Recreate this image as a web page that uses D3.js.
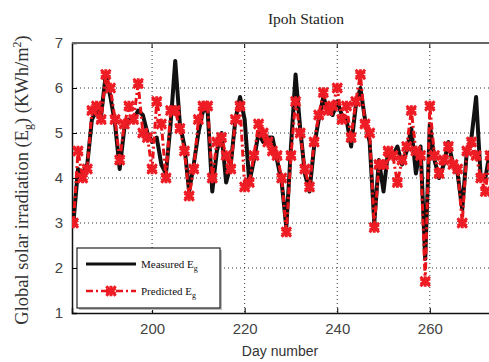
<!DOCTYPE html>
<html>
<head>
<meta charset="utf-8">
<script src="https://cdn.jsdelivr.net/npm/d3@7"></script>
<style>
  body { margin: 0; background: #fff; }
  svg { display: block; }
</style>
</head>
<body>
<div id="chart"></div>
<script>
// Tag des Jahres (Ipoh, Juli - September)
const startDay = 183;
const measured = [3.0, 4.2, 4.1, 4.3, 5.3, 5.5, 5.4, 6.3, 5.8, 5.2,
                  4.2, 5.1, 5.3, 5.3, 5.5, 5.4, 5.0, 4.8, 4.9, 4.3,
                  4.1, 5.2, 6.6, 5.2, 4.7, 3.7, 4.3, 5.0, 5.5, 5.5,
                  3.7, 4.6, 5.0, 3.9, 4.3, 5.3, 5.8, 5.3, 3.9, 4.4,
                  5.0, 4.8, 4.9, 4.9, 4.4, 3.9, 2.9, 4.7, 6.3, 5.1,
                  4.1, 3.7, 4.7, 5.3, 5.8, 5.5, 5.4, 5.7, 5.4, 5.3,
                  4.7, 5.6, 6.0, 5.3, 4.8, 3.0, 4.4, 3.7, 4.6, 4.5,
                  4.7, 4.3, 4.6, 5.1, 4.1, 4.7, 2.2, 5.2, 4.4, 4.0,
                  4.3, 4.8, 4.3, 4.1, 3.3, 4.6, 4.9, 5.8, 4.0, 4.0, 4.6];
const predicted = [3.0, 4.6, 4.0, 4.2, 5.5, 5.6, 5.3, 6.3, 6.0, 5.3,
                   4.4, 5.2, 5.6, 5.3, 6.1, 5.0, 4.9, 4.2, 5.7, 5.2,
                   4.0, 5.5, 5.5, 5.1, 4.6, 3.6, 4.2, 5.3, 5.6, 5.6,
                   4.0, 4.8, 4.9, 4.5, 4.2, 5.3, 5.6, 3.8, 3.9, 4.5,
                   5.2, 5.0, 4.8, 4.6, 4.5, 4.0, 2.8, 4.5, 5.7, 5.0,
                   4.2, 3.8, 4.8, 5.4, 5.9, 5.5, 5.6, 6.0, 5.3, 5.6,
                   4.9, 5.7, 6.3, 5.2, 5.0, 2.9, 4.3, 4.3, 4.6, 4.5,
                   3.9, 4.4, 4.7, 5.5, 4.6, 4.5, 1.7, 5.6, 4.5, 4.1,
                   4.4, 4.7, 4.3, 4.2, 3.0, 4.6, 4.8, 4.5, 4.0, 3.7, 4.5];
const xTicks = [200, 220, 240, 260];
const yTicks = [1, 2, 3, 4, 5, 6, 7];

const width = 489, height = 362;
const mLeft = 72, mTop = 43, mBottom = 313, mRight = 540; // rechter Rand liegt ausserhalb des Bildes

const svg = d3.select("#chart").append("svg")
    .attr("width", width)
    .attr("height", height);

const x = d3.scaleLinear().domain([182.7, 283.8]).range([mLeft, mRight]);
const y = d3.scaleLinear().domain([1, 7]).range([mBottom, mTop]);

svg.append("defs").append("clipPath").attr("id", "plot-clip")
    .append("rect")
    .attr("x", mLeft).attr("y", mTop - 2)
    .attr("width", mRight - mLeft).attr("height", mBottom - mTop + 4);

// Gitterlinien (gepunktet)
const grid = svg.append("g");
grid.selectAll(".gx").data(xTicks).enter().append("line")
    .attr("x1", d => x(d)).attr("x2", d => x(d))
    .attr("y1", mTop).attr("y2", mBottom)
    .attr("stroke", "#333").attr("stroke-width", 1)
    .attr("stroke-dasharray", "1,3");
grid.selectAll(".gy").data(yTicks.slice(1, -1)).enter().append("line")
    .attr("x1", mLeft).attr("x2", mRight)
    .attr("y1", d => y(d)).attr("y2", d => y(d))
    .attr("stroke", "#333").attr("stroke-width", 1)
    .attr("stroke-dasharray", "1,3");

// Achsen
const xAxis = d3.axisBottom(x).tickValues(xTicks).tickSize(-5).tickPadding(10).tickFormat(d3.format("d"));
const yAxis = d3.axisLeft(y).tickValues(yTicks).tickSize(-5).tickPadding(9).tickFormat(d3.format("d"));

svg.append("g")
    .attr("transform", `translate(0,${mBottom})`)
    .call(xAxis)
    .call(g => g.select(".domain").attr("stroke", "#111").attr("stroke-width", 1.5))
    .call(g => g.selectAll("text").attr("font-family", "Liberation Sans, Arial, sans-serif").attr("font-size", 15).attr("fill", "#444"));

svg.append("g")
    .attr("transform", `translate(${mLeft},0)`)
    .call(yAxis)
    .call(g => g.select(".domain").attr("stroke", "#111").attr("stroke-width", 1.5))
    .call(g => g.selectAll("text").attr("font-family", "Liberation Sans, Arial, sans-serif").attr("font-size", 15).attr("fill", "#444"));

// obere Ticks und Rahmen
svg.append("g").selectAll("line").data(xTicks).enter().append("line")
    .attr("x1", d => x(d)).attr("x2", d => x(d))
    .attr("y1", mTop).attr("y2", mTop + 5)
    .attr("stroke", "#111");
svg.append("line")
    .attr("x1", mLeft).attr("x2", mRight)
    .attr("y1", mTop).attr("y2", mTop)
    .attr("stroke", "#666").attr("stroke-width", 2);

const days = measured.map((d, i) => startDay + i);
const line = d3.line().x((d, i) => x(days[i])).y(d => y(d));

const plot = svg.append("g").attr("clip-path", "url(#plot-clip)");

// Gemessen: schwarze Linie
plot.append("path")
    .datum(measured)
    .attr("d", line)
    .attr("fill", "none")
    .attr("stroke", "#111")
    .attr("stroke-width", 4)
    .attr("stroke-linejoin", "round");

// Vorhersage: rot, Strich-Punkt mit Sternen
plot.append("path")
    .datum(predicted)
    .attr("d", line)
    .attr("fill", "none")
    .attr("stroke", "#e8141a")
    .attr("stroke-width", 3)
    .attr("stroke-dasharray", "7,3,2,3");

const star = d3.symbol().type(d3.symbolAsterisk).size(80);
const starX = d3.symbol().type(d3.symbolTimes).size(60);
const markers = plot.selectAll(".mk").data(predicted).enter().append("g")
    .attr("transform", (d, i) => `translate(${x(days[i])},${y(d)})`);
markers.append("path").attr("d", star).attr("stroke", "#ee1c24").attr("stroke-width", 3).attr("fill", "none");
markers.append("path").attr("d", starX).attr("stroke", "#ee1c24").attr("stroke-width", 3).attr("fill", "none");

// Titel und Beschriftungen
svg.append("text")
    .attr("x", 306).attr("y", 24)
    .attr("text-anchor", "middle")
    .attr("font-family", "Liberation Serif, Times New Roman, serif")
    .attr("font-size", 15.5)
    .attr("fill", "#222")
    .text("Ipoh Station");

svg.append("text")
    .attr("x", 280).attr("y", 356)
    .attr("text-anchor", "middle")
    .attr("font-family", "Liberation Sans, Arial, sans-serif")
    .attr("font-size", 14)
    .attr("fill", "#333")
    .text("Day number");

const ylab = svg.append("text")
    .attr("transform", "translate(28,180) rotate(-90)")
    .attr("text-anchor", "middle")
    .attr("font-family", "Liberation Serif, Times New Roman, serif")
    .attr("font-size", 18.5)
    .attr("fill", "#333");
ylab.append("tspan").text("Global solar irradiation (E");
ylab.append("tspan").attr("font-size", 12).attr("dy", 4).text("g");
ylab.append("tspan").attr("dy", -4).text(") (KWh/m");
ylab.append("tspan").attr("font-size", 12).attr("dy", -7).text("2");
ylab.append("tspan").attr("dy", 7).text(")");

// Legende
const legend = svg.append("g").attr("transform", "translate(77,248)");
legend.append("rect")
    .attr("x", 2).attr("y", 2).attr("width", 143).attr("height", 60)
    .attr("fill", "#bbb");
legend.append("rect")
    .attr("width", 143).attr("height", 60)
    .attr("fill", "#fff").attr("stroke", "#222").attr("stroke-width", 1.2);

const legendItems = [
    { label: "Measured E", color: "#111", dash: null, marker: false },
    { label: "Predicted E", color: "#e8141a", dash: "7,3,2,3", marker: true }
];
const li = legend.selectAll(".li").data(legendItems).enter().append("g")
    .attr("transform", (d, i) => `translate(0,${16 + i * 27})`);
li.append("line")
    .attr("x1", 9).attr("x2", 59)
    .attr("stroke", d => d.color)
    .attr("stroke-width", d => d.marker ? 2.5 : 3)
    .attr("stroke-dasharray", d => d.dash);
li.filter(d => d.marker).append("path")
    .attr("transform", "translate(34,0)")
    .attr("d", star).attr("stroke", "#ee1c24").attr("stroke-width", 3).attr("fill", "none");
li.filter(d => d.marker).append("path")
    .attr("transform", "translate(34,0)")
    .attr("d", starX).attr("stroke", "#ee1c24").attr("stroke-width", 3).attr("fill", "none");
const lt = li.append("text")
    .attr("x", 64).attr("y", 4)
    .attr("font-family", "Liberation Serif, Times New Roman, serif")
    .attr("font-size", 11)
    .attr("fill", "#111");
lt.append("tspan").text(d => d.label);
lt.append("tspan").attr("font-size", 8).attr("dy", 3).text("g");
</script>
</body>
</html>
